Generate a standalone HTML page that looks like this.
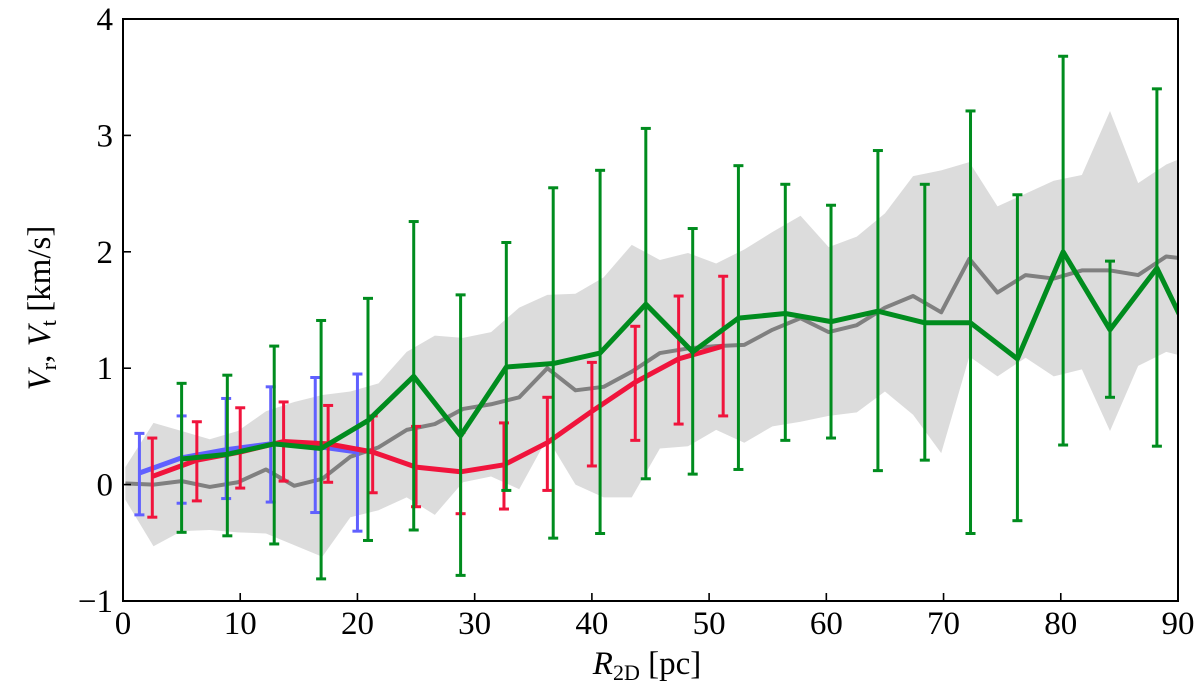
<!DOCTYPE html>
<html><head><meta charset="utf-8"><style>
body{margin:0;background:#fff;}
svg{display:block;font-family:"Liberation Serif","DejaVu Serif",serif;}
</style></head><body>
<svg id="chart" width="1200" height="696" viewBox="0 0 1200 696">
<defs><clipPath id="clip"><rect x="123" y="19" width="1055" height="582"/></clipPath></defs>
<g id="plot" clip-path="url(#clip)"></g>
<g id="axes"></g>
</svg>
<script>
// gray reference band & median
const grayX0 = 0.2, grayStep = 2.4;
const grayMid = [0.01,0.00,0.03,-0.02,0.02,0.13,-0.01,0.05,0.24,0.32,0.47,0.52,0.65,0.69,0.75,1.00,0.81,0.84,0.97,1.13,1.17,1.19,1.20,1.33,1.43,1.31,1.37,1.52,1.62,1.48,1.94,1.65,1.80,1.77,1.84,1.84,1.80,1.96,1.93];
const grayHi = [0.15,0.53,0.46,0.39,0.46,0.63,0.71,0.77,0.80,0.87,1.14,1.28,1.26,1.31,1.52,1.63,1.64,1.78,2.06,1.93,1.99,1.90,2.02,2.17,2.31,2.04,2.13,2.33,2.65,2.70,2.77,2.39,2.50,2.61,2.66,3.21,2.59,2.75,2.85];
const grayLo = [-0.13,-0.53,-0.40,-0.39,-0.41,-0.42,-0.52,-0.62,-0.28,-0.22,-0.11,-0.26,0.02,0.07,-0.04,0.40,0.00,-0.11,-0.11,0.31,0.33,0.47,0.36,0.50,0.54,0.59,0.62,0.80,0.60,0.27,1.10,0.93,1.09,0.93,0.99,0.46,1.02,1.14,1.08];
// blue series
const blueX = [1.4,5.0,8.8,12.6,16.4,20.0];
const blueY = [0.10,0.23,0.30,0.35,0.33,0.28];
const blueHi = [0.44,0.59,0.74,0.84,0.92,0.95];
const blueLo = [-0.26,-0.16,-0.12,-0.15,-0.24,-0.40];
// red series
const redX = [2.5,6.3,10.0,13.7,17.5,21.3,25.0,28.8,32.5,36.2,40.0,43.7,47.4,51.2];
const redY = [0.07,0.21,0.28,0.37,0.35,0.28,0.15,0.11,0.17,0.36,0.63,0.88,1.08,1.19];
const redHi = [0.40,0.54,0.66,0.71,0.68,0.59,0.50,0.45,0.53,0.75,1.05,1.36,1.62,1.79];
const redLo = [-0.28,-0.14,-0.03,0.03,0.02,-0.07,-0.19,-0.25,-0.21,-0.05,0.16,0.38,0.52,0.59];
// green series
const greenX = [5.0,8.9,12.9,16.9,20.9,24.8,28.8,32.7,36.7,40.7,44.6,48.6,52.5,56.5,60.4,64.4,68.4,72.3,76.3,80.2,84.2,88.2,92.1];
const greenY = [0.22,0.26,0.35,0.31,0.55,0.93,0.42,1.01,1.04,1.13,1.55,1.14,1.43,1.47,1.40,1.49,1.39,1.39,1.08,2.00,1.33,1.86,1.05];
const greenHi = [0.87,0.94,1.19,1.41,1.60,2.26,1.63,2.08,2.55,2.70,3.06,2.20,2.74,2.58,2.40,2.87,2.58,3.21,2.49,3.68,1.92,3.40,2.5];
const greenLo = [-0.41,-0.44,-0.51,-0.81,-0.48,-0.39,-0.78,-0.05,-0.46,-0.42,0.05,0.09,0.13,0.38,0.40,0.12,0.21,-0.42,-0.31,0.34,0.75,0.33,-0.2];
const xTicks = [0,10,20,30,40,50,60,70,80,90];
const yTicks = [-1,0,1,2,3,4];
const yTickLabels = ["\u22121","0","1","2","3","4"];

const L=123,R=1178,T=19,B=601;
const X = v => L + (v-0)/(90-0)*(R-L);
const Y = v => B - (v-(-1))/(4-(-1))*(B-T);
const NS="http://www.w3.org/2000/svg";
const plot=document.getElementById('plot'), axes=document.getElementById('axes');
function mk(tag,attrs,parent){const e=document.createElementNS(NS,tag);for(const k in attrs)e.setAttribute(k,attrs[k]);parent.appendChild(e);return e;}

const gx = grayMid.map((_,i)=>grayX0+grayStep*i);
let band = gx.map((x,i)=>X(x)+','+Y(grayHi[i])).concat(gx.map((x,i)=>X(x)+','+Y(grayLo[i])).reverse()).join(' ');
let bandEl = mk('polygon',{points:band,fill:'#dcdcdc',stroke:'none'},plot);


let gl = mk('polyline',{points:gx.map((x,i)=>X(x)+','+Y(grayMid[i])).join(' '),fill:'none',stroke:'#808080','stroke-width':4,'stroke-linejoin':'round'},plot);



function series(xs,ys,hi,lo,color,name){
  const g=mk('g',{},plot);
  
  
  const line=mk('polyline',{points:xs.map((x,i)=>X(x)+','+Y(ys[i])).join(' '),fill:'none',stroke:color,'stroke-width':5,'stroke-linejoin':'round'},g);
  
  
  xs.forEach((x,i)=>{
    const eb=mk('g',{stroke:color,'stroke-width':3},g);
    
    
    const px=X(x);
    mk('line',{x1:px,x2:px,y1:Y(hi[i]),y2:Y(lo[i])},eb);
    mk('line',{x1:px-5,x2:px+5,y1:Y(hi[i]),y2:Y(hi[i])},eb);
    mk('line',{x1:px-5,x2:px+5,y1:Y(lo[i]),y2:Y(lo[i])},eb);
  });
  return g;
}
series(blueX,blueY,blueHi,blueLo,'#6060ff','blue');
series(redX,redY,redHi,redLo,'#f0143c','red');
series(greenX,greenY,greenHi,greenLo,'#008c1e','green');

let frame=mk('rect',{x:L,y:T,width:R-L,height:B-T,fill:'none',stroke:'#000','stroke-width':2},axes);


xTicks.forEach(t=>{
  const tk=mk('line',{x1:X(t),x2:X(t),y1:B,y2:B-8,stroke:'#000','stroke-width':1.6},axes);
  
  
  const tx=mk('text',{x:X(t),y:634,'text-anchor':'middle','font-size':33},axes);
  tx.textContent=String(t);
  
  
});
yTicks.forEach((t,i)=>{
  const tk=mk('line',{x1:L,x2:L+8,y1:Y(t),y2:Y(t),stroke:'#000','stroke-width':1.6},axes);
  
  
  const tx=mk('text',{x:113,y:Y(t)+11,'text-anchor':'end','font-size':33},axes);
  tx.textContent=yTickLabels[i];
  
  
});
</script>
<div style="position:absolute;left:0;top:0;width:1200px;height:696px;pointer-events:none;">
<svg width="1200" height="696" style="position:absolute;left:0;top:0;font-family:'Liberation Serif','DejaVu Serif',serif;">
<text x="647" y="674" text-anchor="middle" font-size="33"><tspan font-style="italic">R</tspan><tspan font-size="22" dy="6">2D</tspan><tspan dy="-6"> [pc]</tspan></text>
<text transform="translate(50,308) rotate(-90)" text-anchor="middle" font-size="33"><tspan font-style="italic">V</tspan><tspan font-size="22" dy="6">r</tspan><tspan dy="-6">, </tspan><tspan font-style="italic">V</tspan><tspan font-size="22" dy="6">t</tspan><tspan dy="-6"> [km/s]</tspan></text>
</svg></div>
</body></html>
